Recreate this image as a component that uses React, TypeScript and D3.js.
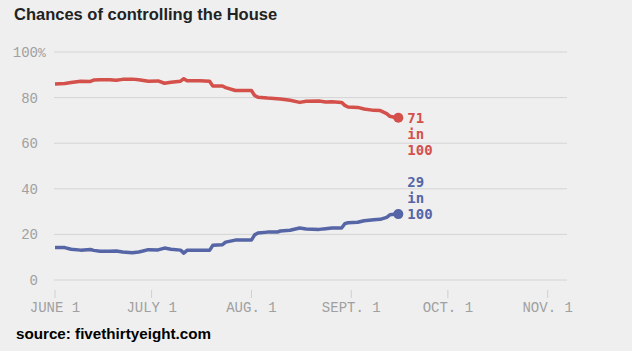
import { useMemo } from "react"
import * as d3 from "d3"

// dates of the forecast updates (2018)
const dates = [
  "2018-06-01", "2018-06-04", "2018-06-06", "2018-06-09", "2018-06-12", "2018-06-13",
  "2018-06-15", "2018-06-18", "2018-06-20", "2018-06-22", "2018-06-25", "2018-06-27",
  "2018-06-28", "2018-06-30", "2018-07-03", "2018-07-05", "2018-07-07", "2018-07-10",
  "2018-07-11", "2018-07-12", "2018-07-16", "2018-07-19", "2018-07-20", "2018-07-23",
  "2018-07-24", "2018-07-27", "2018-08-01", "2018-08-02", "2018-08-03", "2018-08-06",
  "2018-08-09", "2018-08-10", "2018-08-13", "2018-08-16", "2018-08-18", "2018-08-22",
  "2018-08-24", "2018-08-26", "2018-08-29", "2018-08-30", "2018-08-31", "2018-09-03",
  "2018-09-05", "2018-09-08", "2018-09-10", "2018-09-12", "2018-09-13", "2018-09-15",
];

const redValues = [
  86.0, 86.2, 86.6, 87.2, 87.1, 87.7,
  87.8, 87.8, 87.6, 88.0, 88.1, 87.8,
  87.6, 87.2, 87.3, 86.3, 86.7, 87.2,
  88.3, 87.4, 87.4, 87.2, 85.1, 85.1,
  84.4, 83.1, 83.1, 80.9, 80.2, 79.8,
  79.5, 79.4, 78.8, 77.9, 78.4, 78.5,
  78.1, 78.2, 77.9, 76.6, 75.9, 75.7,
  75.0, 74.4, 74.3, 73.0, 71.8, 71.2,
];

const blueValues = [
  14.3, 14.2, 13.5, 13.1, 13.4, 13.0,
  12.6, 12.6, 12.7, 12.3, 12.0, 12.3,
  12.6, 13.3, 13.2, 14.0, 13.5, 13.1,
  11.8, 13.0, 13.0, 13.0, 15.2, 15.5,
  16.6, 17.5, 17.5, 19.8, 20.6, 21.0,
  21.0, 21.5, 21.8, 22.8, 22.4, 22.2,
  22.5, 22.8, 22.8, 24.7, 25.1, 25.3,
  26.0, 26.4, 26.6, 27.5, 28.6, 28.9,
];

const endLabels = [
  { lines: ["71", "in", "100"], color: "#d4504a" },
  { lines: ["29", "in", "100"], color: "#5565a5" },
];

const yTicks = [0, 20, 40, 60, 80, 100];
const xTickDates = ["2018-06-01", "2018-07-01", "2018-08-01", "2018-09-01", "2018-10-01", "2018-11-01"];
const xTickLabels = ["JUNE 1", "JULY 1", "AUG. 1", "SEPT. 1", "OCT. 1", "NOV. 1"];

const W = 632;
const H = 351;
const parse = d3.timeParse("%Y-%m-%d");
const mono = "'Liberation Mono', 'DejaVu Sans Mono', monospace";

export default function App() {
  const x = useMemo(
    () => d3.scaleTime().domain([parse("2018-06-01")!, parse("2018-11-07")!]).range([55, 567]),
    []
  );
  const y = useMemo(() => d3.scaleLinear().domain([0, 100]).range([280, 52]), []);

  const series = [
    { values: redValues, color: endLabels[0].color, label: endLabels[0] },
    { values: blueValues, color: endLabels[1].color, label: endLabels[1] },
  ];

  const line = d3
    .line<number>()
    .x((_, i) => x(parse(dates[i])!))
    .y((d) => y(d));

  return (
    <svg width={W} height={H} style={{ position: "absolute", left: 0, top: 0 }}>
      <rect width={W} height={H} fill="#efefef" />
      <text x={14} y={20} fontFamily="'Liberation Sans', Arial, sans-serif" fontWeight="bold" fontSize={16.5} fill="#222">
        Chances of controlling the House
      </text>

      {yTicks.map((t) => (
        <g key={t}>
          <line x1={54} x2={567} y1={y(t)} y2={y(t)} stroke="#d4d4d4" strokeWidth={1} />
          <text x={38} y={y(t)} dy="0.35em" textAnchor="end" fontFamily={mono} fontSize={14} fill="#a0a0a0">
            {t}
          </text>
          {t === 100 && (
            <text x={38} y={y(t)} dy="0.35em" fontFamily={mono} fontSize={13} fill="#a0a0a0">
              %
            </text>
          )}
        </g>
      ))}

      {xTickDates.map((d, i) => {
        const px = x(parse(d)!);
        return (
          <g key={d}>
            <line x1={px} x2={px} y1={290} y2={298} stroke="#cfcfcf" strokeWidth={1} />
            <text x={px} y={312} textAnchor="middle" fontFamily={mono} fontSize={14} fill="#a0a0a0">
              {xTickLabels[i]}
            </text>
          </g>
        );
      })}

      {series.map((s, k) => {
        const lastX = x(parse(dates[dates.length - 1])!);
        const lastY = y(s.values[s.values.length - 1]);
        const labelTop = k === 0 ? lastY : lastY - 32;
        return (
          <g key={k}>
            <path d={line(s.values) || ""} fill="none" stroke={s.color} strokeWidth={3.5} strokeLinejoin="round" />
            <circle cx={lastX + 2} cy={lastY} r={5} fill={s.color} />
            {s.label.lines.map((t, j) => (
              <text
                key={j}
                x={lastX + 11}
                y={labelTop + j * 16}
                dy="0.35em"
                fontFamily="'DejaVu Sans Mono', monospace"
                fontWeight="bold"
                fontSize={14}
                fill={s.color}
              >
                {t}
              </text>
            ))}
          </g>
        );
      })}

      <text x={16} y={339} fontFamily="'Liberation Sans', Arial, sans-serif" fontWeight="bold" fontSize={15.2} fill="#000">
        source: fivethirtyeight.com
      </text>
    </svg>
  );
}
